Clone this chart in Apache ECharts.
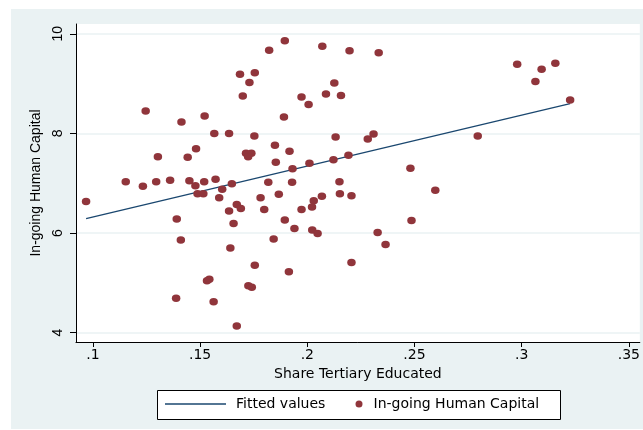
<!DOCTYPE html>
<html>
<head>
<meta charset="utf-8">
<script src="https://cdn.jsdelivr.net/npm/echarts@6/dist/echarts.min.js"></script>
<style>html,body{margin:0;padding:0;background:#fff}#c{width:643px;height:430px}</style>
</head>
<body>
<div id="c"></div>
<script>
// Share Tertiary Educated (x) and In-going Human Capital (y)
var shareTertiary = [
  0.1246,0.1413,0.1521,0.1566,0.1635,0.1686,0.1699,0.1730,0.1755,0.1822,
  0.1895,0.1753,0.1891,0.1973,0.2006,0.2070,0.2087,0.1303,0.1442,0.1481,
  0.1714,0.1739,0.1724,0.1849,0.1917,0.1853,0.1931,0.2010,0.1153,0.1233,
  0.1295,0.1360,0.1450,0.1478,0.1519,0.1572,0.1603,0.1648,0.1818,0.1929,
  0.1488,0.1515,0.1589,0.1782,0.1867,0.2030,0.2068,0.0968,
  0.1671,0.1690,0.1635,0.1799,0.1973,0.2022,0.1391,0.1895,0.1656,0.1940,
  0.2023,0.2048,0.1410,0.1843,0.1641,0.1755,0.1914,0.1532,0.1543,0.1725,
  0.1741,0.1388,0.1563,0.1671,
  0.2197,0.2333,0.2126,0.2157,0.2979,0.3093,0.3157,0.3064,0.3226,0.2132,
  0.2282,0.2309,0.2795,0.2122,0.2192,0.2481,0.2150,0.2152,0.2206,0.2597,
  0.2486,0.2328,0.2365,0.2206
];
var humanCapital = [
  8.45,8.23,8.35,8.00,8.00,9.19,8.75,9.02,9.22,9.67,
  9.86,7.95,8.33,8.73,8.58,9.75,8.79,7.53,7.52,7.69,
  7.60,7.60,7.53,7.76,7.64,7.42,7.29,7.40,7.03,6.94,
  7.03,7.06,7.05,6.95,7.03,7.08,6.88,6.99,7.02,7.02,
  6.79,6.79,6.71,6.71,6.78,6.65,6.74,6.63,
  6.57,6.49,6.44,6.47,6.47,6.52,6.28,6.26,6.19,6.09,
  6.06,5.99,5.86,5.88,5.70,5.35,5.22,5.04,5.07,4.94,
  4.91,4.69,4.62,4.13,
  9.66,9.62,9.01,8.76,9.39,9.29,9.41,9.04,8.67,7.93,
  7.89,7.99,7.95,7.47,7.56,7.30,7.03,6.79,6.75,6.86,
  6.25,6.01,5.77,5.41
];
// Fitted values (endpoints of the linear fit)
var fitX = [0.0968, 0.3226];
var fitY = [6.29, 8.60];
var xTicks = [0.1, 0.15, 0.2, 0.25, 0.3, 0.35];
var yTicks = [4, 6, 8, 10];

var scatterData = shareTertiary.map(function (x, i) { return [x, humanCapital[i]]; });
var fitData = fitX.map(function (x, i) { return [x, fitY[i]]; });

var hFont = 'DejaVu Sans';
var vFont = 'Liberation Sans';
var chart = echarts.init(document.getElementById('c'), null, {renderer: 'canvas'});
chart.setOption({
  backgroundColor: '#fff',
  animation: false,
  graphic: [
    {type: 'rect', z: -10, silent: true, shape: {x: 11, y: 9, width: 632, height: 420}, style: {fill: '#eaf2f3'}},
    {type: 'rect', z: 1, silent: true, shape: {x: 157.5, y: 390.5, width: 403, height: 29}, style: {fill: '#fff', stroke: '#000', lineWidth: 1}}
  ],
  grid: {left: 76, right: 0, top: 24, bottom: 88, show: true, backgroundColor: '#fff', borderWidth: 0},
  xAxis: {
    type: 'value', min: 0.0921, max: 0.3551,
    name: 'Share Tertiary Educated', nameLocation: 'middle', nameGap: 24,
    nameTextStyle: {fontFamily: hFont, fontSize: 14, color: '#000'},
    axisLine: {show: true, lineStyle: {color: '#000', width: 1}},
    axisTick: {show: true, customValues: xTicks, length: 5, lineStyle: {color: '#000'}},
    axisLabel: {customValues: xTicks, margin: 6, fontFamily: hFont, fontSize: 14, color: '#000',
      formatter: function (v) { return String(v).replace(/^0/, ''); }},
    splitLine: {show: false}
  },
  yAxis: {
    type: 'value', min: 3.811, max: 10.197,
    name: 'In-going Human Capital', nameLocation: 'middle', nameGap: 28, nameRotate: 90,
    nameTextStyle: {fontFamily: vFont, fontSize: 14, color: '#000'},
    axisLine: {show: true, lineStyle: {color: '#000', width: 1}},
    axisTick: {show: true, customValues: yTicks, length: 6, lineStyle: {color: '#000'}},
    axisLabel: {customValues: yTicks, rotate: 90, margin: 11, fontFamily: vFont, fontSize: 14, color: '#000'},
    splitLine: {show: true, lineStyle: {color: '#eaf2f3', width: 1.5}}
  },
  legend: [
    {data: [{name: 'Fitted values', icon: 'rect'}], left: 165, top: 397, itemWidth: 61, itemHeight: 1.4, padding: 0,
      itemStyle: {color: '#1a476f'},
      textStyle: {fontFamily: hFont, fontSize: 14, color: '#000', padding: [0, 0, 0, 5]}, z: 5},
    {data: ['In-going Human Capital'], left: 355.5, top: 397, itemWidth: 7, itemHeight: 7, padding: 0,
      textStyle: {fontFamily: hFont, fontSize: 14, color: '#000', padding: [0, 0, 0, 6]}, z: 5}
  ],
  series: [
    {name: 'Fitted values', type: 'line', data: fitData, symbol: 'none', z: 2,
      lineStyle: {color: '#1a476f', width: 1.3}, itemStyle: {color: '#1a476f'}},
    {name: 'In-going Human Capital', type: 'scatter', data: scatterData, z: 3,
      symbol: 'circle', symbolSize: [8.5, 7.5], itemStyle: {color: '#90353b', opacity: 1}}
  ]
});
</script>
</body>
</html>
